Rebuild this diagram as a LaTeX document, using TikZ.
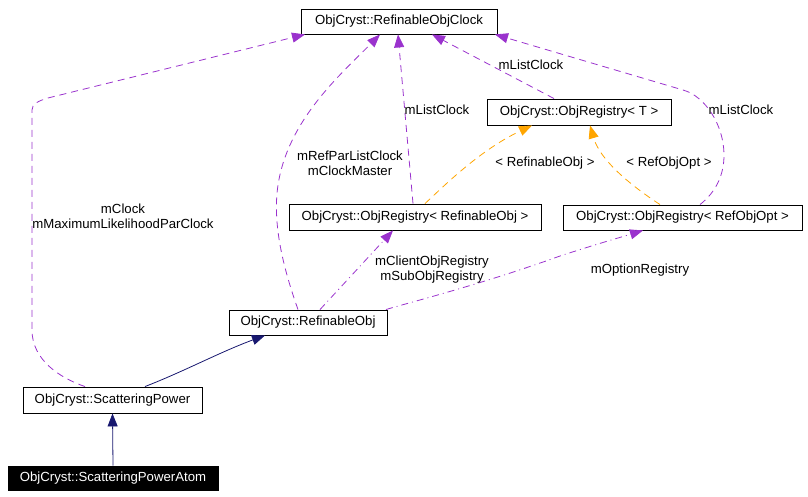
\documentclass[tikz,border=0pt]{standalone}
\usepackage{fontspec}
\setmainfont{Liberation Sans}
\usetikzlibrary{arrows.meta}
\definecolor{edgepurple}{HTML}{9A32CD}
\definecolor{edgeorange}{HTML}{FFA500}
\definecolor{edgenavy}{HTML}{191970}
\begin{document}
\begin{tikzpicture}[x=1pt,y=-1pt,
  cls/.style={draw=black, line width=0.9pt, inner sep=0pt, minimum height=25pt, font=\fontsize{13.2}{15}\selectfont},
  lbl/.style={inner sep=0pt, align=center, font=\fontsize{13.2}{15}\selectfont},
  tip/.style={-{Triangle[length=13pt,width=10pt]}},
  uses/.style={tip, draw=edgepurple, line width=0.8pt, dash pattern=on 7pt off 5pt},
  usesdd/.style={tip, draw=edgepurple, line width=0.8pt, dash pattern=on 7pt off 4pt on 1pt off 4pt},
  tmpl/.style={tip, draw=edgeorange, line width=0.8pt, dash pattern=on 7pt off 5pt},
  inherit/.style={tip, draw=edgenavy, line width=0.8pt}]
\useasboundingbox (0,0) rectangle (808,497);
% classes
\node[cls, minimum width=196pt] (clock) at (399,21.5) {ObjCryst::RefinableObjClock};
\node[cls, minimum width=184pt, minimum height=26pt] (ot) at (579,112) {ObjCryst::ObjRegistry< T >};
\node[cls, minimum width=252pt, minimum height=26pt] (reg1) at (415,217) {ObjCryst::ObjRegistry< RefinableObj >};
\node[cls, minimum width=239pt] (roo) at (682.5,217.5) {ObjCryst::ObjRegistry< RefObjOpt >};
\node[cls, minimum width=158pt] (ro) at (308,322.5) {ObjCryst::RefinableObj};
\node[cls, minimum width=179pt, minimum height=26pt] (sp) at (112.5,400) {ObjCryst::ScatteringPower};
\node[cls, fill=black, text=white, minimum width=210pt, minimum height=24pt] (spa) at (113,478) {ObjCryst::ScatteringPowerAtom};
% inheritance
\draw[inherit] (spa.north) -- (sp.south);
\draw[inherit] ([xshift=32.5pt]sp.north) .. controls (185,371) and (220,352) .. ([xshift=-43pt]ro.south);
% usage edges
\draw[uses] ([xshift=-27.5pt]sp.north) .. controls (60,378) and (32,360) .. (32,330) -- (32,110)
  .. controls (32,104) and (38,101) .. (48,98) -- ([xshift=-94pt]clock.south);
\draw[uses] ([xshift=-10pt]ro.north) .. controls (284,270) and (272,225) .. (278,185)
  .. controls (288,120) and (340,75) .. ([xshift=-19pt]clock.south);
\draw[uses] ([xshift=-2pt]reg1.north) -- ([xshift=-1pt]clock.south);
\draw[uses] ([xshift=-25pt]ot.north) -- ([xshift=33pt]clock.south);
\draw[uses] ([xshift=17.5pt]roo.north) .. controls (716,192) and (724,175) .. (724,155)
  .. controls (724,125) and (705,96) .. (683,90) -- ([xshift=96pt]clock.south);
\draw[tmpl] ([xshift=10pt]reg1.north) .. controls (445,185) and (480,150) .. ([xshift=-47pt]ot.south);
\draw[tmpl] ([xshift=-22.5pt]roo.north) .. controls (630,185) and (600,160) .. ([xshift=11pt]ot.south);
\draw[usesdd] ([xshift=12pt]ro.north) -- ([xshift=-22pt]reg1.south);
\draw[usesdd] ([xshift=78pt]ro.north) .. controls (400,305) and (480,285) .. (560,256)
  .. controls (600,243) and (625,236) .. ([xshift=-39.5pt]roo.south);
% labels
\node[lbl] (l1) at (123,216.5) {mClock\\mMaximumLikelihoodParClock};
\node[lbl] (l2) at (350,163) {mRefParListClock\\mClockMaster};
\node[lbl] (l3) at (437,110) {mListClock};
\node[lbl] (l4) at (531,65) {mListClock};
\node[lbl] (l5) at (741,110) {mListClock};
\node[lbl] (l6) at (545,163) {< RefinableObj >};
\node[lbl] (l7) at (669,163) {< RefObjOpt >};
\node[lbl] (l8) at (432,269.5) {mClientObjRegistry\\mSubObjRegistry};
\node[lbl] (l9) at (640,270) {mOptionRegistry};
\end{tikzpicture}
\end{document}
